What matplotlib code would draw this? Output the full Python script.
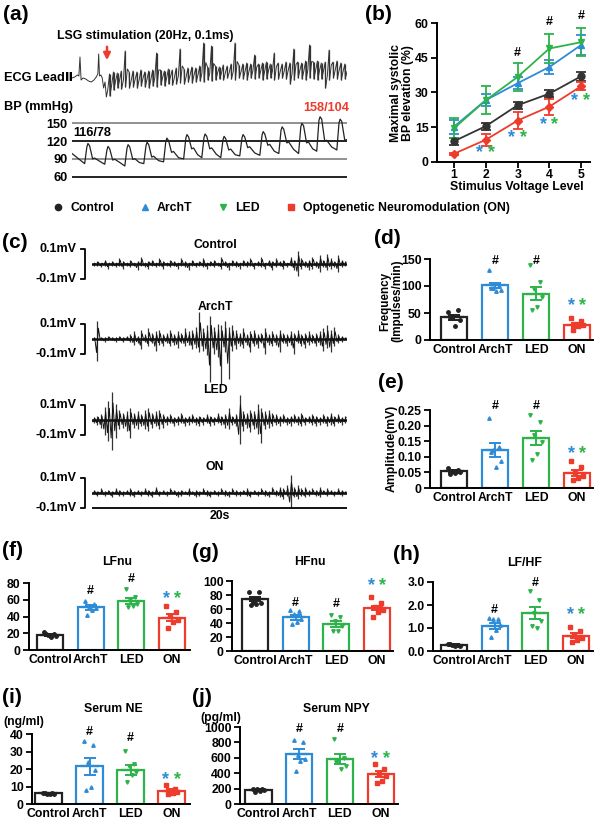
import matplotlib
matplotlib.use('Agg')
import matplotlib.pyplot as plt
import numpy as np
from matplotlib.lines import Line2D
from matplotlib.patches import FancyArrowPatch

plt.rcParams['font.family'] = ['Liberation Sans', 'DejaVu Sans']
plt.rcParams['font.weight'] = 'bold'
plt.rcParams['axes.linewidth'] = 1.4

# ---------------- data ----------------
GROUPS = ['Control', 'ArchT', 'LED', 'ON']

# (a) ECG (time s, amplitude mV) and BP beats
ecg_pre_t = [0.0, 0.1, 0.2, 0.25, 0.29, 0.33, 0.4, 0.5, 0.6, 0.7, 0.8, 0.88, 0.94, 0.97, 1.0, 1.05, 1.1, 1.15, 1.2, 1.25, 1.3]
ecg_pre_v = [0.0, 0.05, 0.15, 0.1, 1.05, -0.1, 0.0, -0.05, -0.15, -0.2, -0.1, 0.05, 0.2, 1.2, 0.1, 0.15, 0.0, -0.5, -0.2, -0.95, -0.6]
ecg_hi = [0.2, 0.3, 0.25, 0.35, 1.35, 0.3, 0.35, 0.3, 0.4, 0.3, 0.35, 0.4, 1.25, 0.4, 0.35, 0.45, 0.4, 0.5, 1.45, 0.45,
          0.5, 0.55, 0.5, 0.6, 1.75, 0.55, 1.6, 0.6, 0.55, 0.65, 0.6, 0.7, 1.75, 0.65, 0.7, 0.75, 0.7, 1.15, 0.7, 0.75,
          0.8, 0.7, 1.25, 0.75, 0.7, 0.8, 0.75, 1.45, 0.8, 0.75, 0.85, 1.65, 0.8, 0.85, 0.75, 0.8, 1.4, 0.8, 0.85, 0.75, 0.7]
ecg_lo = [-0.9, -0.6, -0.5, -0.55, -0.45, -0.5, -0.45, -0.5, -0.4, -0.45, -0.5, -0.4, -0.45, -0.35, -0.4, -0.3, -0.35, -0.3, -0.25, -0.3,
          -0.2, -0.25, -0.2, -0.15, -0.2, -0.1, -0.15, -0.1, -0.05, -0.1, 0.0, -0.05, -0.1, 0.0, -0.05, -0.1, 0.0, -0.05, 0.0, -0.1,
          -0.05, 0.0, -0.1, -0.05, 0.0, -0.05, -0.3, -0.1, 0.0, -0.05, -0.1, 0.0, -0.05, -0.1, -0.05, -0.5, -0.1, 0.0, -0.05, -0.1, -0.05]
bp_peak_t = [0.58, 1.31, 2.04, 2.73, 3.45, 4.18, 4.84, 5.53, 6.22, 6.95, 7.64, 8.36, 9.02, 9.75]
bp_sys = [116, 111, 114, 118, 125, 131, 132, 128, 131, 136, 144, 150, 161, 157]
bp_dia = [82, 81, 78, 82, 85, 90, 92, 92, 95, 96, 99, 99, 103, 105]
bp_notch = [90, 88, 89, 93, 101, 107, 107, 105, 109, 113, 117, 117, 120, 121]
bp_late = [86, 84, 84, 87, 92, 97, 98, 97, 100, 103, 106, 107, 110, 120]
bp_start, bp_end = 99, 120
bp_ticks = [60, 90, 120, 150]

# (b)
volt = [1, 2, 3, 4, 5]
b_ctrl = [9, 15.5, 24.5, 29.5, 37];   b_ctrl_e = [1.5, 1.5, 1.5, 1.5, 2]
b_arch = [15.3, 26.7, 34, 41, 50.5];  b_arch_e = [3, 2.5, 2.5, 3, 4.3]
b_led = [14.6, 26.7, 36.7, 49, 51.7]; b_led_e = [4.3, 6, 6, 6.4, 6]
b_on = [3.6, 9.6, 17.9, 23.9, 32.7];  b_on_e = [0.5, 2.5, 3.7, 3.5, 1.8]

# (c) nerve activity envelopes, units of 0.01 mV, 70 samples over 20 s
ctrl_up = [1,2,1,3,1,2,1,4,2,1, 3,1,2,5,1,2,3,1,4,2, 1,3,2,1,4,2,1,3,1,2, 4,1,2,3,1,5,2,1,3,2,
           1,3,2,4,1,2,5,1,3,2, 4,2,3,1,5,3,9,4,2,3, 5,2,6,3,7,4,2,6,3,2]
ctrl_dn = [1,1,2,1,3,1,2,1,3,1, 2,1,4,1,2,3,1,2,1,3, 1,2,1,3,1,2,4,1,2,1, 2,3,1,2,1,3,1,4,1,2,
           3,1,2,1,3,1,2,3,1,4, 2,1,3,2,1,4,8,3,2,4, 3,2,5,2,4,3,2,5,2,1]
arch_up = [1,12,1,1,2,1,1,2,1,2, 3,5,2,6,3,7,4,5,6,3, 4,6,3,5,4,7,5,6,8,18, 7,9,15,8,10,9,12,8,9,6,
           4,7,3,5,6,3,4,7,3,5, 3,6,4,3,5,4,6,3,4,5, 3,4,5,7,9,6,8,3,2,1]
arch_dn = [1,15,1,2,1,1,2,1,2,1, 2,4,3,7,2,5,3,8,4,5, 3,5,4,6,3,5,4,7,6,9, 8,11,29,10,12,30,9,27,8,7,
           5,6,4,9,5,6,3,10,4,5, 4,9,3,5,4,10,3,5,6,4, 3,5,4,8,6,9,5,3,2,1]
led_up = [2,3,4,9,13,19,11,7,5,6, 8,5,6,4,7,8,5,6,7,4, 3,4,2,3,5,2,3,4,2,3, 2,4,3,2,5,3,4,8,3,4,
          17,6,5,7,6,11,8,6,7,5, 4,3,4,2,3,4,3,5,2,3, 4,3,2,4,3,5,3,4,2,3]
led_dn = [2,3,5,10,14,20,12,6,5,7, 12,5,6,4,6,7,5,4,6,5, 3,2,4,3,2,4,3,2,3,4, 3,2,4,3,2,3,5,6,3,4,
          16,7,5,8,6,9,15,6,5,4, 3,4,2,3,4,2,3,4,3,2, 3,4,3,2,4,3,4,2,3,2]
on_up = [2,1,3,1,2,1,3,2,1,2, 3,1,2,1,3,2,1,4,1,2, 1,3,2,1,2,1,3,1,2,1, 3,2,1,2,1,3,2,1,3,2,
         1,2,3,1,2,1,3,2,1,4, 2,4,3,5,12,4,5,3,4,2, 3,2,4,2,3,2,1,3,2,1]
on_dn = [1,2,1,2,1,3,1,2,2,1, 2,3,1,2,1,2,3,1,2,1, 2,1,1,3,2,1,2,1,3,2, 1,2,3,1,2,1,2,3,1,2,
         2,1,2,3,1,2,1,2,3,1, 2,3,4,2,10,3,4,2,3,2, 1,2,3,1,2,1,2,1,2,1]

# (d)-(j): means, SEM, individual points
freq_means = [42, 101, 86, 28]; freq_sems = [4.5, 5, 12, 3.5]
freq_pts = [[52, 55, 44, 37, 25, 42], [130, 100, 97, 93, 91, 96], [138, 107, 95, 80, 62, 55], [40, 35, 30, 28, 25, 18]]
amp_means = [0.053, 0.122, 0.16, 0.048]; amp_sems = [0.004, 0.022, 0.023, 0.01]
amp_pts = [[0.065, 0.058, 0.055, 0.05, 0.048, 0.045], [0.223, 0.13, 0.122, 0.087, 0.068, 0.115],
           [0.235, 0.21, 0.17, 0.148, 0.11, 0.09], [0.087, 0.066, 0.05, 0.04, 0.033, 0.025]]
lf_means = [18, 51, 58, 38.5]; lf_sems = [1.5, 3, 3.5, 4]
lf_pts = [[21, 19, 18, 17, 16, 19.5], [58, 55, 52, 50, 48, 42], [73, 63, 58, 55, 52, 51], [52, 45, 41, 36, 33, 26]]
hf_means = [74, 48, 39, 61.5]; hf_sems = [3, 3, 4, 3.5]
hf_pts = [[84, 84, 70, 68, 67, 66], [59, 57, 53, 46, 41, 39], [52, 48, 43, 36, 29, 28], [77, 68, 63, 59, 56, 49]]
lfhf_means = [0.26, 1.1, 1.66, 0.66]; lfhf_sems = [0.03, 0.13, 0.27, 0.11]
lfhf_pts = [[0.3, 0.28, 0.25, 0.22, 0.2, 0.3], [1.45, 1.4, 1.37, 1.13, 0.9, 0.63],
            [2.63, 2.23, 1.65, 1.29, 1.0, 1.07], [1.05, 0.85, 0.71, 0.57, 0.5, 0.38]]
ne_means = [6.1, 21.5, 19.3, 7.6]; ne_sems = [0.4, 5, 2.8, 0.9]
ne_pts = [[6.5, 6.3, 6.0, 5.8, 5.7, 6.2], [36.2, 33.7, 24.2, 19.4, 9.5, 8.0],
          [30.5, 22.8, 21.7, 18.5, 16.7, 12.8], [10.8, 8.4, 7.6, 6.7, 6.1, 5.8]]
npy_means = [185, 645, 585, 390]; npy_sems = [15, 65, 60, 40]
npy_pts = [[200, 195, 190, 180, 170, 150], [830, 800, 640, 590, 560, 430],
           [840, 600, 560, 500, 460, 540], [520, 460, 390, 360, 300, 270]]

# ---------------- style ----------------
BLACK = '#222222'; BLUE = '#2E8BD6'; GREEN = '#2DB34A'; RED = '#EE3B2C'
COLORS = [BLACK, BLUE, GREEN, RED]
MARKERS = ['o', '^', 'v', 's']
JIT = [-0.14, 0.09, -0.04, 0.14, 0.03, -0.09]
FS = 8.8

W, H = 600, 822
fig = plt.figure(figsize=(W / 100, H / 100), dpi=100)


def ax_px(x0, y0, x1, y1):
    a = fig.add_axes([x0 / W, 1 - y1 / H, (x1 - x0) / W, (y1 - y0) / H])
    a.patch.set_alpha(0)
    return a


def ptext(x, y, s, size=FS, ha='center', va='center', **kw):
    fig.text(x / W, 1 - y / H, s, fontsize=size, fontweight='bold', ha=ha, va=va, **kw)


def style_axes(ax):
    for sp in ['top', 'right']:
        ax.spines[sp].set_visible(False)
    ax.tick_params(axis='y', length=4, width=1.3, labelsize=FS, pad=2)
    ax.tick_params(axis='x', length=0, labelsize=FS, pad=3)


def bar_panel(box, c0, step, means, sems, pts, ylim, yticks, ylabels, hash_y, star_y):
    L, T, R, B = box
    ax = ax_px(L, T, R, B)
    x = np.arange(len(GROUPS))
    ax.bar(x, means, width=0.64, color='white', edgecolor=COLORS, linewidth=1.6, zorder=1)
    for i in range(len(GROUPS)):
        ax.plot(x[i] + np.array(JIT[:len(pts[i])]), pts[i], ls='none', marker=MARKERS[i], ms=2.5,
                color=COLORS[i], zorder=3, clip_on=False)
        ax.errorbar(x[i], means[i], yerr=sems[i], color=COLORS[i], capsize=4, capthick=1.4, lw=1.4, zorder=4)
        ax.hlines(means[i], x[i] - 0.24, x[i] + 0.24, color=COLORS[i], lw=1.6, zorder=4)
    ax.set_xlim((L - c0) / step, (R - c0) / step)
    ax.set_ylim(*ylim)
    ax.set_yticks(yticks)
    ax.set_yticklabels(ylabels)
    ax.set_xticks(x)
    ax.set_xticklabels(GROUPS)
    style_axes(ax)
    ax.text(1, hash_y[0], '#', ha='center', va='center', fontsize=9, fontweight='bold', clip_on=False)
    ax.text(2, hash_y[1], '#', ha='center', va='center', fontsize=9, fontweight='bold', clip_on=False)
    ax.text(3 - 0.14, star_y, '*', color=BLUE, ha='center', va='center', fontsize=13, fontweight='bold')
    ax.text(3 + 0.14, star_y, '*', color=GREEN, ha='center', va='center', fontsize=13, fontweight='bold')
    return ax


# ---------------- (a) ----------------
ax_ecg = ax_px(72, 30, 347, 100)
ax_ecg.axis('off')
ax_ecg.set_xlim(0, 10)
ax_ecg.set_ylim(-1.1, 2.4)
t0 = ecg_pre_t[-1]
dt = (10 - t0) / len(ecg_hi)
et = list(ecg_pre_t)
ev = list(ecg_pre_v)
st = []
for i, (hi, lo) in enumerate(zip(ecg_hi, ecg_lo)):
    et += [t0 + dt * (i + 0.45), t0 + dt * (i + 0.55), t0 + dt * (i + 1)]
    ev += [hi, lo, (hi + lo) / 2]
    st.append(t0 + dt * (i + 0.5))
ax_ecg.plot(et, ev, color='#333333', lw=0.7)
ax_ecg.vlines(st, ecg_lo, ecg_hi, color='#333333', lw=0.9)

ax_bp = ax_px(72, 115, 347, 180)
ax_bp.set_xlim(0, 10)
ax_bp.set_ylim(54.4, 164)
for v, c in zip(bp_ticks, ['#111111', '#888888', '#111111', '#888888']):
    ax_bp.axhline(v, color=c, lw=1.3)
bt = [0.0]
bv = [bp_start]
for k in range(len(bp_peak_t)):
    nxt = bp_peak_t[k + 1] - 0.12 if k + 1 < len(bp_peak_t) else 10.0
    bt += [bp_peak_t[k] - 0.12, bp_peak_t[k] - 0.04, bp_peak_t[k], bp_peak_t[k] + 0.06,
           bp_peak_t[k] + 0.17, bp_peak_t[k] + 0.24, (bp_peak_t[k] + 0.24 + nxt) / 2]
    bv += [bp_dia[k], bp_sys[k] - 6, bp_sys[k], bp_sys[k] - 4, bp_notch[k], bp_notch[k] + 1.5, bp_late[k]]
bt.append(10.0)
bv.append(bp_end)
ax_bp.plot(bt, bv, color='#222222', lw=0.9)
for sp in ax_bp.spines.values():
    sp.set_visible(False)
ax_bp.set_xticks([])
ax_bp.set_yticks(bp_ticks)
ax_bp.set_yticklabels([str(v) for v in bp_ticks])
ax_bp.tick_params(axis='y', length=0, labelsize=9.2, pad=3)

ptext(3, 14, '(a)', size=15, ha='left')
ptext(57, 36, 'LSG stimulation (20Hz, 0.1ms)', size=8.8, ha='left')
ptext(4, 78, 'ECG LeadⅡ', size=9.2, ha='left')
ptext(4, 107, 'BP (mmHg)', size=9.2, ha='left')
ptext(73, 133, '116/78', size=9.2, ha='left')
ptext(303, 108, '158/104', size=9.2, ha='left', color=RED)
fig.add_artist(FancyArrowPatch(posA=(107 / W, 1 - 44 / H), posB=(107 / W, 1 - 63 / H),
                               transform=fig.transFigure, arrowstyle='-|>', mutation_scale=10,
                               color=RED, lw=1.8))

# ---------------- (b) ----------------
axb = ax_px(437, 23, 590, 162)
for vals, errs, c, m, ms in [(b_ctrl, b_ctrl_e, '#333333', 'o', 5), (b_on, b_on_e, RED, 'D', 4),
                             (b_arch, b_arch_e, BLUE, '^', 5), (b_led, b_led_e, GREEN, 'v', 5)]:
    axb.errorbar(volt, vals, yerr=errs, color=c, marker=m, ms=ms, capsize=3.5, lw=1.3, capthick=1.3)
axb.set_xlim(0.46, 5.28)
axb.set_ylim(0, 60)
axb.set_yticks([0, 15, 30, 45, 60])
axb.set_xticks(volt)
style_axes(axb)
axb.tick_params(axis='x', length=4, width=1.3, pad=1)
for xv, yv in [(3, 47), (4, 60.5), (5, 63)]:
    axb.text(xv, yv, '#', ha='center', va='center', fontsize=9, fontweight='bold', clip_on=False)
for xv, yv in [(2, 3.9), (3, 10.6), (4, 16), (5, 26.4)]:
    axb.text(xv - 0.2, yv, '*', color=BLUE, ha='center', va='center', fontsize=13, fontweight='bold')
    axb.text(xv + 0.17, yv, '*', color=GREEN, ha='center', va='center', fontsize=13, fontweight='bold')
ptext(365, 14, '(b)', size=15, ha='left')
ptext(402, 93, 'Maximal systolic\nBP elevation (%)', size=8.8, rotation=90, linespacing=1.0)
ptext(517, 187, 'Stimulus Voltage Level', size=8.8)

# legend
handles = [Line2D([], [], ls='none', marker=m, color=c, ms=ms)
           for m, c, ms in zip(MARKERS, COLORS, [4.5, 4.5, 4.5, 5])]
fig.legend(handles, ['Control', 'ArchT', 'LED', 'Optogenetic Neuromodulation (ON)'], ncol=4,
           loc='center', bbox_to_anchor=(281 / W, 1 - 208 / H), frameon=False, fontsize=FS,
           handlelength=1.0, handletextpad=0.5, columnspacing=2.0)

# ---------------- (c) ----------------
ptext(2, 243, '(c)', size=15, ha='left')
traces = [('Control', ctrl_up, ctrl_dn, 264, 245), ('ArchT', arch_up, arch_dn, 339, 307),
          ('LED', led_up, led_dn, 420, 390), ('ON', on_up, on_dn, 493, 467)]
for name, up, dn, cy, ty in traces:
    ax = ax_px(92, cy - 45, 347, cy + 45)
    ax.axis('off')
    ax.set_xlim(0, 20)
    ax.set_ylim(-0.3, 0.3)
    n = len(up)
    step = 20 / n
    ts = (np.arange(n) + 0.5) * step
    upv = np.array(up) * 0.01
    dnv = -np.array(dn) * 0.01
    ax.vlines(ts, dnv, upv, color='#333333', lw=0.9)
    zt, zv = [], []
    for i in range(n):
        zt += [ts[i] - 0.25 * step, ts[i] + 0.25 * step]
        zv += [dnv[i] * 0.6, upv[i] * 0.6]
    ax.plot(zt, zv, color='#111111', lw=0.7)
    ax.plot([0, 20], [0, 0], color='#111111', lw=1.8)
    tr = ax.get_yaxis_transform()
    xb, xt = (85 - 92) / 255, (81 - 92) / 255
    ax.plot([xt, xb, xb, xt], [0.1, 0.1, -0.1, -0.1], color='black', lw=1.3, transform=tr, clip_on=False)
    ax.text((77 - 92) / 255, 0.1, '0.1mV', transform=tr, ha='right', va='center', fontsize=9, fontweight='bold')
    ax.text((77 - 92) / 255, -0.1, '-0.1mV', transform=tr, ha='right', va='center', fontsize=9, fontweight='bold')
    ptext(215, ty, name, size=8.8)
    if name == 'ON':
        ax.plot([0, 20], [-0.1, -0.1], color='black', lw=1.3)
        ax.text(10, -0.115, '20s', ha='center', va='top', fontsize=8.8, fontweight='bold')

# ---------------- (d)-(j) ----------------
bar_panel((430, 259, 593, 340), 454, 41, freq_means, freq_sems, freq_pts, (0, 150),
          [0, 50, 100, 150], ['0', '50', '100', '150'], (147, 147), 63)
ptext(374, 238, '(d)', size=15, ha='left')
ptext(391, 301, 'Frequency\n(Impulses/min)', size=8.4, rotation=90, linespacing=1.0)

bar_panel((430, 410, 593, 488), 454, 41, amp_means, amp_sems, amp_pts, (0, 0.25),
          [0, 0.05, 0.10, 0.15, 0.20, 0.25], ['0', '0.05', '0.10', '0.15', '0.20', '0.25'], (0.262, 0.262), 0.11)
ptext(378, 382, '(e)', size=15, ha='left')
ptext(392, 448, 'Amplitude(mV)', size=8.8, rotation=90)

bar_panel((29, 583, 190, 650), 50, 40.7, lf_means, lf_sems, lf_pts, (0, 80),
          [0, 20, 40, 60, 80], ['0', '20', '40', '60', '80'], (70, 85), 61)
ptext(2, 550, '(f)', size=15, ha='left')
ptext(117, 562, 'LFnu', size=8.8)

bar_panel((232, 581, 393, 651), 255, 40.7, hf_means, hf_sems, hf_pts, (0, 100),
          [0, 20, 40, 60, 80, 100], ['0', '20', '40', '60', '80', '100'], (68.5, 67), 94)
ptext(192, 552, '(g)', size=15, ha='left')
ptext(310, 562, 'HFnu', size=8.8)

bar_panel((433, 582, 593, 651), 454, 40.7, lfhf_means, lfhf_sems, lfhf_pts, (0, 3.0),
          [0, 1.0, 2.0, 3.0], ['0.0', '1.0', '2.0', '3.0'], (1.78, 2.94), 1.6)
ptext(393, 555, '(h)', size=15, ha='left')
ptext(525, 563, 'LF/HF', size=8.8)

bar_panel((32, 734, 190, 804), 48.5, 41, ne_means, ne_sems, ne_pts, (0, 40),
          [0, 10, 20, 30, 40], ['0', '10', '20', '30', '40'], (41, 37.5), 14)
ptext(2, 697, '(i)', size=15, ha='left')
ptext(113, 709, 'Serum NE', size=8.8)
ptext(3, 722, '(ng/ml)', size=8.8, ha='left')

bar_panel((240, 727, 398, 804), 258.5, 40.7, npy_means, npy_sems, npy_pts, (0, 1000),
          [0, 200, 400, 600, 800, 1000], ['0', '200', '400', '600', '800', '1000'], (978, 978), 595)
ptext(192, 697, '(j)', size=15, ha='left')
ptext(336, 709, 'Serum NPY', size=8.8)
ptext(200, 718, '(pg/ml)', size=8.8, ha='left')

fig.savefig('out.png', dpi=100)
